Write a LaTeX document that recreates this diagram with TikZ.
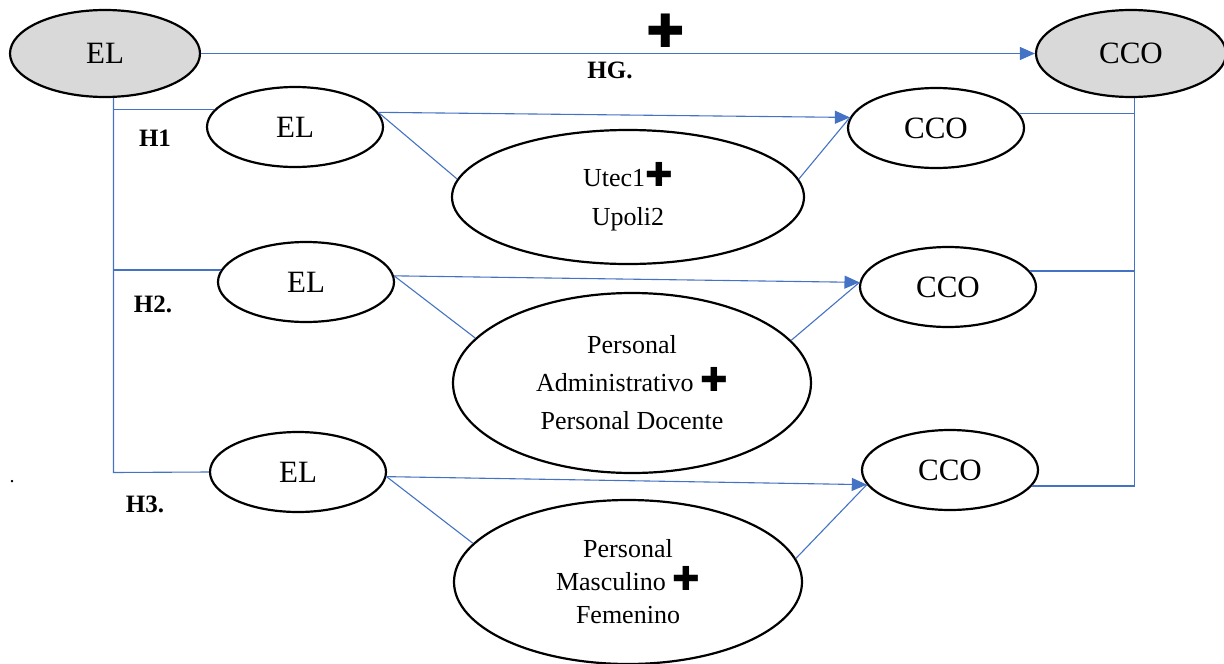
\documentclass[tikz,border=0pt]{standalone}
\usepackage{fontspec}
\setmainfont{Liberation Serif}
\newfontfamily\symfont{DejaVu Sans}
\usetikzlibrary{arrows.meta,shapes.geometric}
\definecolor{lnblue}{HTML}{4472C4}
\definecolor{elgray}{HTML}{D9D9D9}
\newcommand{\gplus}[1]{{\symfont\fontsize{#1}{#1}\selectfont ✚}}
\begin{document}
\begin{tikzpicture}[x=1pt,y=-1pt,
  oval/.style={ellipse, draw=black, line width=2.2pt, inner sep=0pt, minimum width=176pt, minimum height=80pt, font=\fontsize{31}{31}\selectfont},
  bigoval/.style={oval, minimum width=190pt, minimum height=87pt, fill=elgray},
  modoval/.style={ellipse, draw=black, line width=2.2pt, inner sep=0pt, align=center},
  conn/.style={draw=lnblue, line width=1.1pt},
  arr/.style={conn, -{Triangle[length=15pt,width=13pt]}},
  hlabel/.style={font=\fontsize{25}{25}\selectfont\bfseries, inner sep=0pt}
]
\useasboundingbox (0,0) rectangle (1224,664);
% top row
\node[bigoval] (el0) at (105,53.5) {EL};
\node[bigoval] (cco0) at (1131,53.5) {CCO};
\node[inner sep=0pt] (plus0) at (666,31) {\gplus{46}};
\node[hlabel] (hg) at (610,70) {HG.};
% H1 row
\node[oval] (el1) at (295,127) {EL};
\node[oval] (cco1) at (936,128) {CCO};
\node[modoval, minimum width=352pt, minimum height=134pt, font=\fontsize{26}{39}\selectfont] (m1) at (628,197) {Utec1\gplus{33}\\Upoli2};
\node[hlabel] (h1) at (155,138) {H1};
% H2 row
\node[oval] (el2) at (306,282) {EL};
\node[oval] (cco2) at (948,287) {CCO};
\node[modoval, minimum width=358pt, minimum height=180pt, font=\fontsize{26}{38}\selectfont] (m2) at (632,383) {Personal\\Administrativo \gplus{33}\\Personal Docente};
\node[hlabel] (h2) at (153,304) {H2.};
% H3 row
\node[oval] (el3) at (298,472) {EL};
\node[oval] (cco3) at (950,470) {CCO};
\node[modoval, minimum width=348pt, minimum height=164pt, font=\fontsize{26}{33}\selectfont] (m3) at (628,582) {Personal\\Masculino \gplus{33}\\Femenino};
\node[hlabel] (h3) at (145,504) {H3.};
\node[font=\fontsize{20}{20}\selectfont, inner sep=0pt] (dot) at (12,482) {.};
% trunks
\coordinate (tl) at (113.5,472.5);
\coordinate (tr) at (1134.5,487);
% general hypothesis
\draw[arr] (el0.east) -- (cco0.west);
% left trunk
\draw[conn] (el0.south -| tl) -- (tl) -- (el3.west);
\draw[conn] (el1.168) -- (el1.168 -| tl);
\draw[conn] (el2.172) -- (el2.172 -| tl);
% right trunk
\draw[conn] (cco0.south -| tr) -- (cco3.-11 -| tr) -- (cco3.-11);
\draw[conn] (cco1.10) -- (cco1.10 -| tr);
\draw[conn] (cco2.11) -- (cco2.11 -| tr);
% H1
\draw[arr] (el1.10) -- (cco1.173);
\draw[conn] (el1.10) -- (m1.174);
\draw[conn] (m1.6) -- (cco1.173);
% H2
\draw[arr] (el2.4) -- (cco2.177);
\draw[conn] (el2.4) -- (m2.164);
\draw[conn] (m2.15) -- (cco2.177);
% H3
\draw[arr] (el3.-3) -- (cco3.-170);
\draw[conn] (el3.-3) -- (m3.166);
\draw[conn] (m3.8) -- (cco3.-170);
\end{tikzpicture}
\end{document}
